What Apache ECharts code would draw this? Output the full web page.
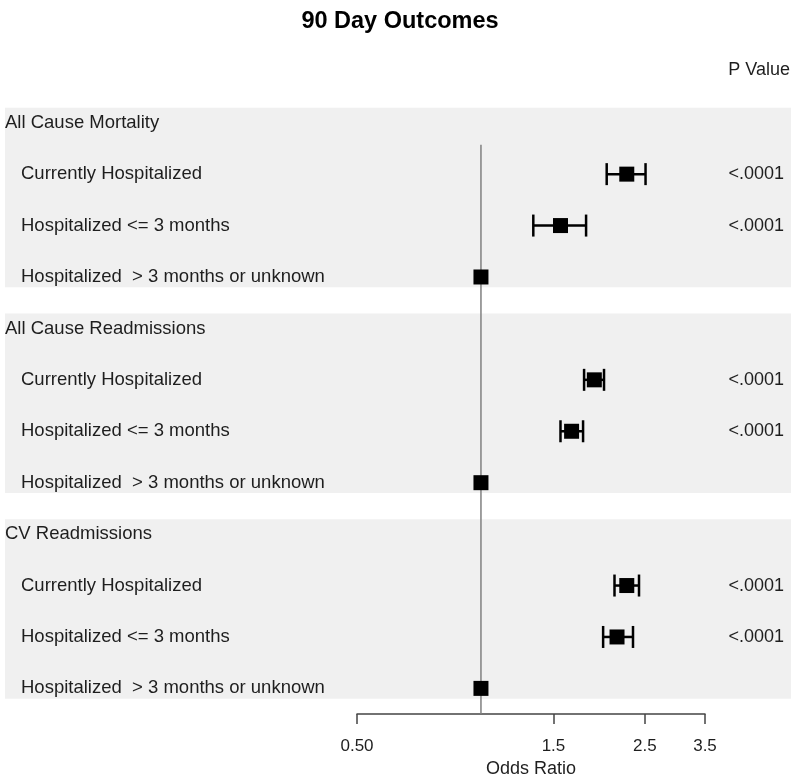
<!DOCTYPE html>
<html>
<head>
<meta charset="utf-8">
<script src="https://cdn.jsdelivr.net/npm/echarts@6/dist/echarts.min.js"></script>
<style>
html,body{margin:0;padding:0;background:#fff;}
#chart{width:800px;height:783px;}
</style>
</head>
<body>
<div id="chart"></div>
<script>
// ---- data ----
const categories = [
  'All Cause Mortality',
  'Currently Hospitalized',
  'Hospitalized <= 3 months',
  'Hospitalized  > 3 months or unknown',
  'All Cause Readmissions',
  'Currently Hospitalized',
  'Hospitalized <= 3 months',
  'Hospitalized  > 3 months or unknown',
  'CV Readmissions',
  'Currently Hospitalized',
  'Hospitalized <= 3 months',
  'Hospitalized  > 3 months or unknown'
];
const isHeader = [true,false,false,false,true,false,false,false,true,false,false,false];
const oddsRatio = [null,2.26,1.56,1.00,null,1.885,1.66,1.00,null,2.26,2.14,1.00];
const ciLower   = [null,2.02,1.34,null,null,1.78,1.56,null,null,2.11,1.98,null];
const ciUpper   = [null,2.51,1.80,null,null,1.99,1.77,null,null,2.42,2.34,null];
const pValues   = ['','<.0001','<.0001','','','<.0001','<.0001','','','<.0001','<.0001',''];
const groupStart = [0,4,8];
const groupEnd   = [3,7,11];
const tickValues = [0.5,1.5,2.5,3.5];
const tickLabels = ['0.50','1.5','2.5','3.5'];
const refValue = 1;
const chartTitle = '90 Day Outcomes';
const pHeader = 'P Value';
const xName = 'Odds Ratio';

// ---- build ----
const FONT = '"Liberation Sans", Arial, sans-serif';
const LBL = 18.5;
const pointData = [];
oddsRatio.forEach((v, i) => {
  if (v == null) return;
  pointData.push([v, ciLower[i] == null ? '-' : ciLower[i], ciUpper[i] == null ? '-' : ciUpper[i], i]);
});
const bandData = groupStart.map((s, i) => [refValue, s, groupEnd[i]]);

const chart = echarts.init(document.getElementById('chart'), null, {renderer: 'canvas'});
chart.setOption({
  animation: false,
  backgroundColor: '#ffffff',
  textStyle: {fontFamily: FONT},
  title: {
    text: chartTitle, left: 'center', top: 5,
    textStyle: {fontSize: 23.5, fontWeight: 'bold', color: '#000', fontFamily: FONT}
  },
  graphic: [{
    type: 'text', right: 10, top: 61,
    style: {text: pHeader, fill: '#1e1e1e', font: '18px ' + FONT}
  }],
  grid: {left: 357, right: 95, top: 97, bottom: 68, containLabel: false},
  xAxis: {
    type: 'log', logBase: 10, min: 0.5, max: 3.5,
    name: xName, nameLocation: 'middle', nameGap: 45,
    nameTextStyle: {fontSize: 18, color: '#1e1e1e', fontFamily: FONT},
    axisLine: {show: true, lineStyle: {color: '#444', width: 1.5}},
    axisTick: {show: true, length: 10, customValues: tickValues, lineStyle: {color: '#444', width: 1.5}},
    axisLabel: {
      customValues: tickValues, margin: 24, fontSize: 17, color: '#1e1e1e', fontFamily: FONT,
      formatter: function (v) {
        let best = 0;
        tickValues.forEach((t, k) => { if (Math.abs(t - v) < Math.abs(tickValues[best] - v)) best = k; });
        return tickLabels[best];
      }
    },
    splitLine: {show: false}
  },
  yAxis: [{
    type: 'category', inverse: true, data: categories, position: 'left',
    axisLine: {show: false}, axisTick: {show: false}, splitLine: {show: false},
    axisLabel: {
      interval: 0, align: 'left', margin: 352, fontSize: LBL, color: '#1e1e1e', fontFamily: FONT,
      formatter: function (v, i) { return isHeader[i] ? '{h|' + v + '}' : '{r|' + v + '}'; },
      rich: {
        h: {fontSize: LBL, color: '#1e1e1e', fontFamily: FONT},
        r: {fontSize: LBL, color: '#1e1e1e', fontFamily: FONT, padding: [0, 0, 0, 16]}
      }
    }
  }, {
    type: 'category', inverse: true, data: pValues, position: 'right',
    axisLine: {show: false}, axisTick: {show: false}, splitLine: {show: false},
    axisLabel: {interval: 0, align: 'right', margin: 79, fontSize: 18, color: '#1e1e1e', fontFamily: FONT}
  }],
  series: [{
    type: 'custom', name: 'bands', z: 0, silent: true,
    data: bandData,
    encode: {x: 0, y: [1, 2]},
    renderItem: function (params, api) {
      const h = api.coord([refValue, 1])[1] - api.coord([refValue, 0])[1];
      const y0 = api.coord([api.value(0), api.value(1)])[1] - 0.29 * h;
      const y1 = api.coord([api.value(0), api.value(2)])[1] + 0.2 * h;
      const W = api.getWidth();
      return {type: 'rect', shape: {x: 5, y: y0, width: W - 14, height: y1 - y0},
              style: {fill: '#f0f0f0'}};
    }
  }, {
    type: 'custom', name: 'ref', z: 1, silent: true,
    data: [[refValue, 1]],
    encode: {x: 0, y: 1},
    renderItem: function (params, api) {
      const h = api.coord([refValue, 1])[1] - api.coord([refValue, 0])[1];
      const p = api.coord([api.value(0), api.value(1)]);
      const bottom = params.coordSys.y + params.coordSys.height;
      return {type: 'line', shape: {x1: p[0], y1: p[1] - 0.57 * h, x2: p[0], y2: bottom},
              style: {stroke: '#808080', lineWidth: 1.5}};
    }
  }, {
    type: 'custom', name: 'estimates', z: 2,
    data: pointData,
    encode: {x: 0, y: 3},
    renderItem: function (params, api) {
      const or = api.value(0), lo = api.value(1), hi = api.value(2), row = api.value(3);
      const c = api.coord([or, row]);
      const children = [];
      if (!isNaN(lo) && !isNaN(hi)) {
        const a = api.coord([lo, row]), b = api.coord([hi, row]);
        const st = {stroke: '#000', lineWidth: 2.5};
        children.push({type: 'line', shape: {x1: a[0], y1: c[1], x2: b[0], y2: c[1]}, style: st});
        children.push({type: 'line', shape: {x1: a[0], y1: c[1] - 11, x2: a[0], y2: c[1] + 11}, style: st});
        children.push({type: 'line', shape: {x1: b[0], y1: c[1] - 11, x2: b[0], y2: c[1] + 11}, style: st});
      }
      const s = 15;
      children.push({type: 'rect', shape: {x: c[0] - s / 2, y: c[1] - s / 2, width: s, height: s}, style: {fill: '#000'}});
      return {type: 'group', children: children};
    }
  }]
});
</script>
</body>
</html>
